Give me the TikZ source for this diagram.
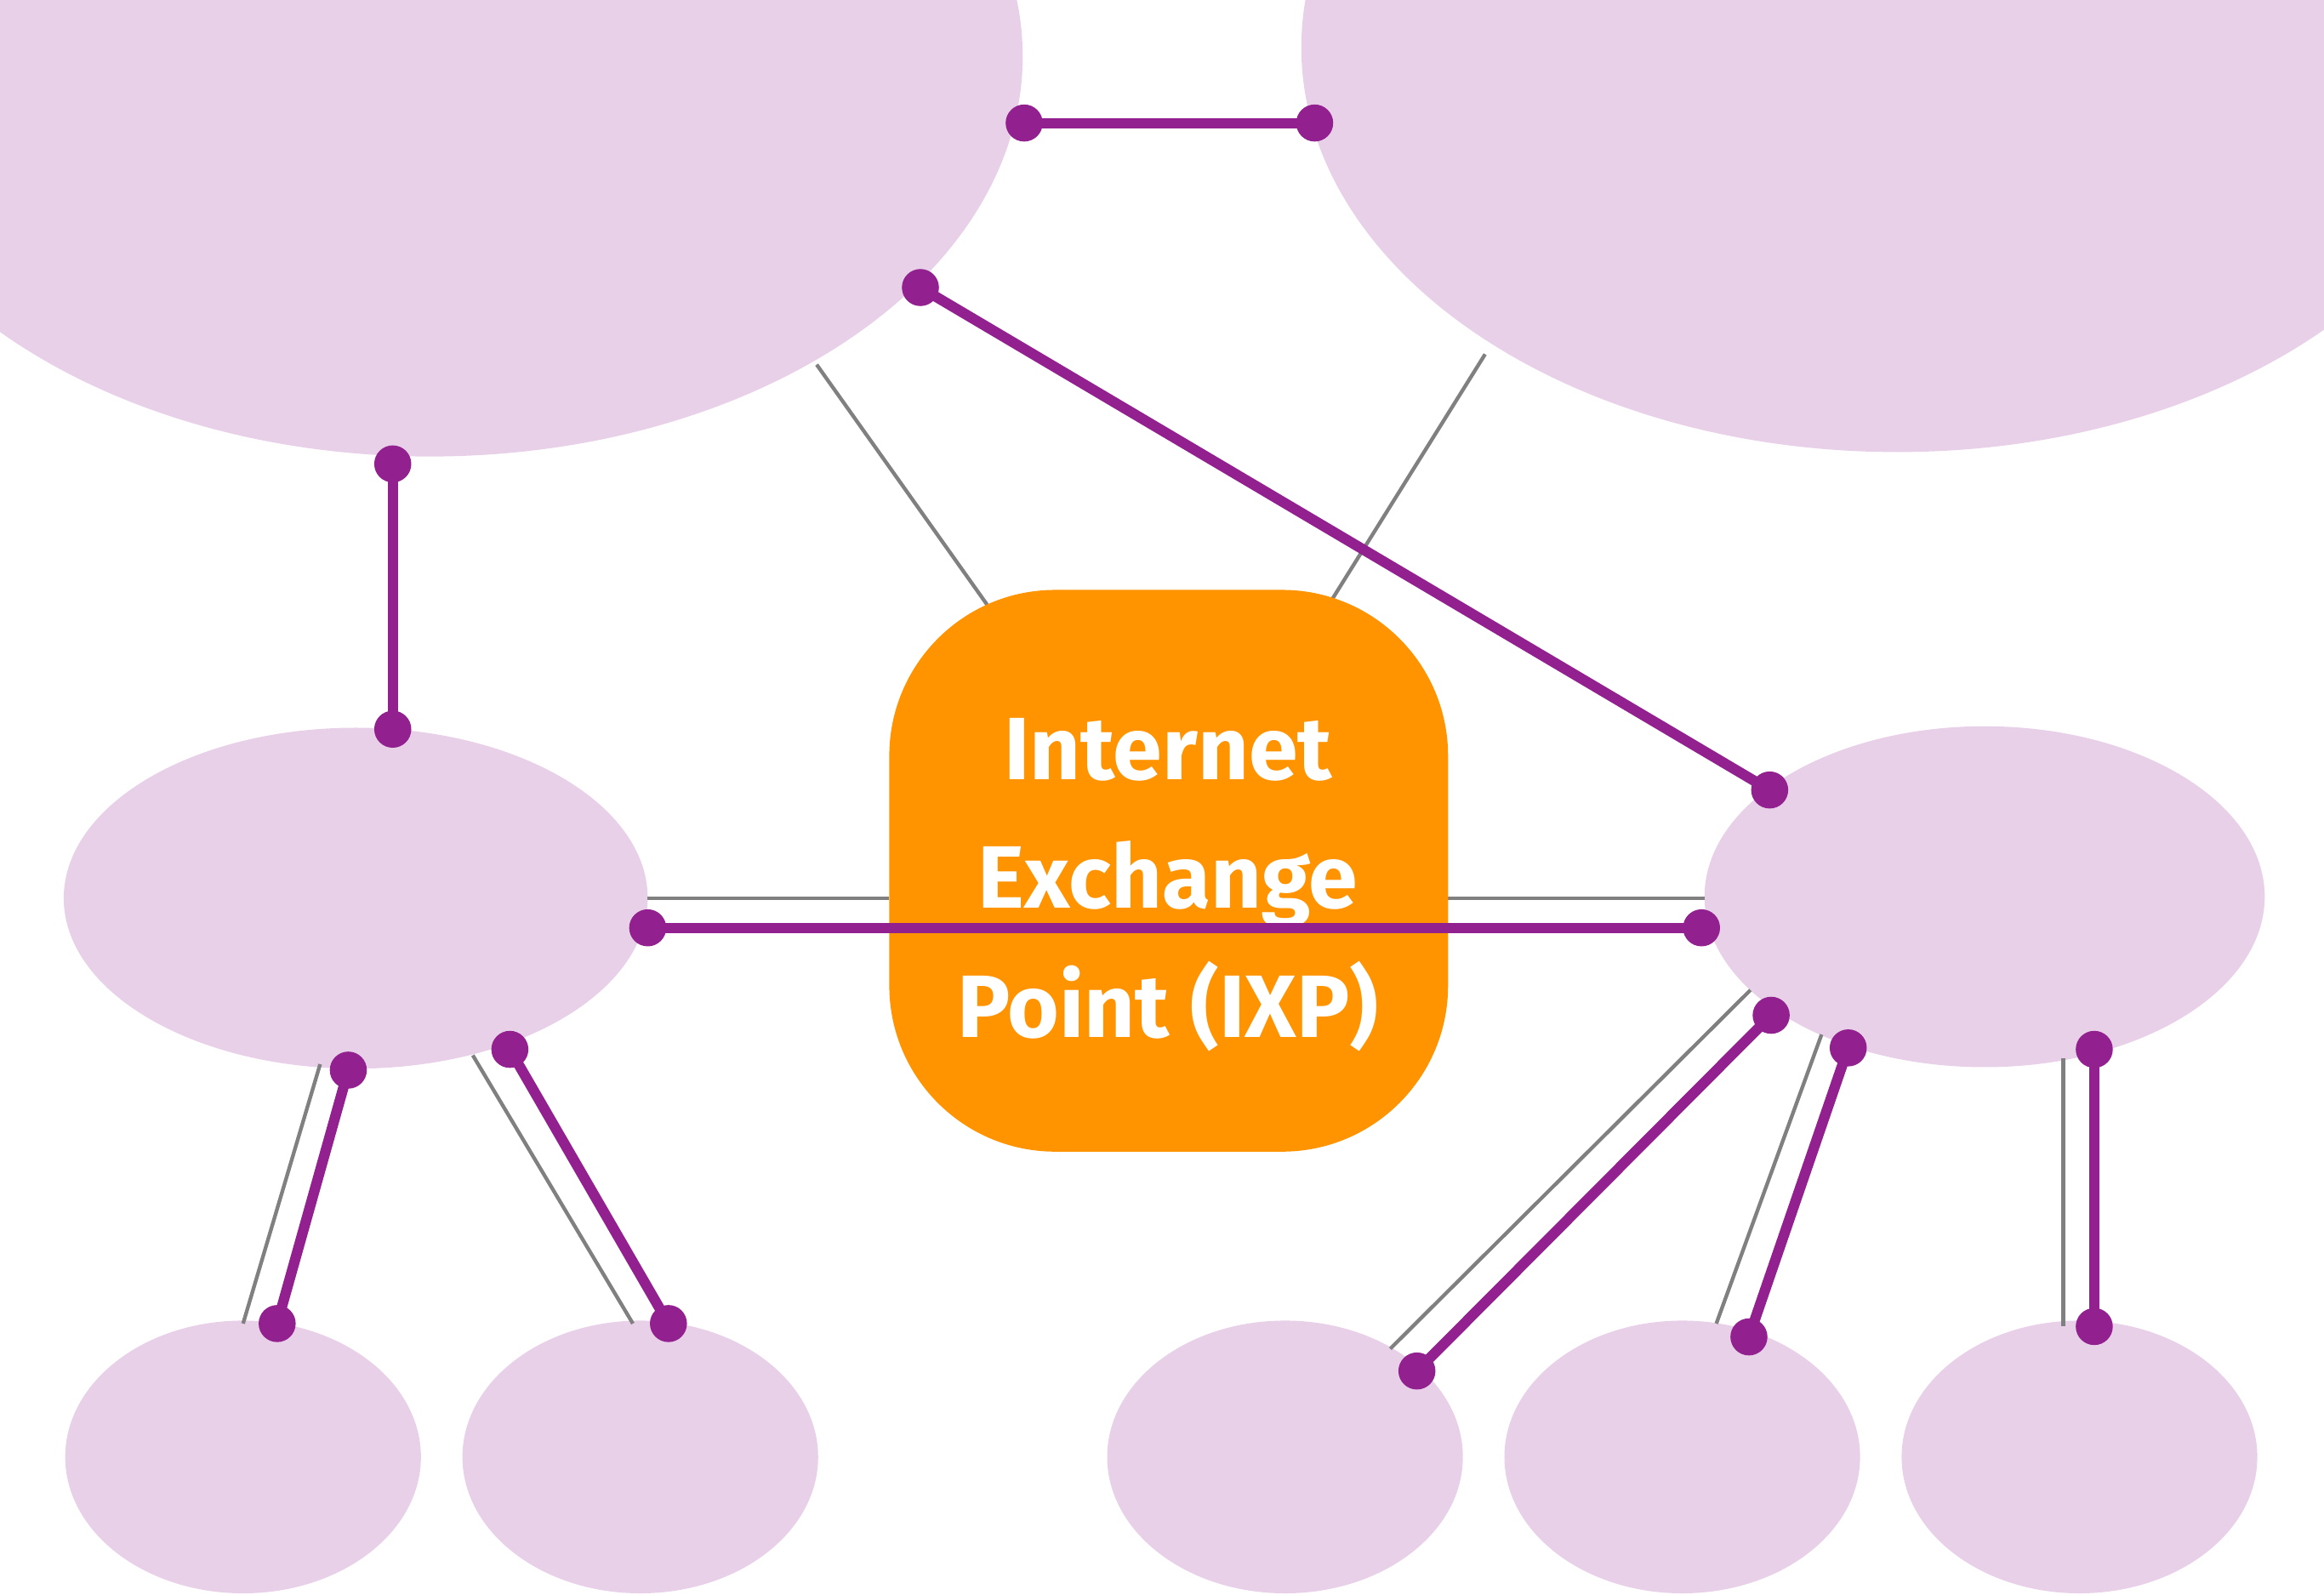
\documentclass[tikz,border=0pt]{standalone}
\usepackage{fontspec}
\setmainfont{Fira Sans}
\usetikzlibrary{shapes.geometric}
\definecolor{lilac}{RGB}{232,209,232}
\definecolor{plum}{RGB}{147,32,143}
\definecolor{ixporange}{RGB}{255,147,0}

\begin{document}
\begin{tikzpicture}[x=0.1mm, y=-0.1mm, cloud/.style={ellipse, fill=lilac, inner sep=0pt}, link/.style={line width=0.7mm, draw=plum}, peer/.style={line width=0.25mm, draw=gray}, dot/.style={circle, fill=plum, minimum size=2.5mm, inner sep=0pt}, ixp/.style={fill=ixporange, rounded corners=11.2mm, minimum width=37.7mm, minimum height=37.9mm, inner sep=0pt}, label/.style={text=white, font=\fontsize{17}{24.7}\selectfont\bfseries, align=center}]

\useasboundingbox (0,0) rectangle (1568,1076);
\clip (0,0) rectangle (1568,1076);

% networks
\node[cloud, minimum width=80mm, minimum height=54mm] (tl) at (290,38) {};
\node[cloud, minimum width=80.4mm, minimum height=54.6mm] (tr) at (1280,32) {};
\node[cloud, minimum width=39.4mm, minimum height=23mm] (ml) at (240,606) {};
\node[cloud, minimum width=37.8mm, minimum height=23mm] (mr) at (1339,605) {};
\foreach \n/\x in {b1/164, b2/432, b3/867, b4/1135, b5/1403}
  \node[cloud, minimum width=24mm, minimum height=18.4mm] (\n) at (\x,983) {};

% thin peer lines
\coordinate (ga1) at (551,246); \coordinate (ga2) at (666,408);
\coordinate (gb1) at (1002,239); \coordinate (gb2) at (899,404);
\coordinate (gc1) at (437,606); \coordinate (gc2) at (600,606);
\coordinate (gd1) at (977,606); \coordinate (gd2) at (1150,606);
\coordinate (ge1) at (216,718); \coordinate (ge2) at (164,893);
\coordinate (gf1) at (319,712); \coordinate (gf2) at (427,893);
\coordinate (gg1) at (1181,668); \coordinate (gg2) at (938,910);
\coordinate (gh1) at (1229,698); \coordinate (gh2) at (1158,893);
\coordinate (gi1) at (1392,714); \coordinate (gi2) at (1392,895);
\foreach \g in {ga, gb, gc, gd, ge, gf, gg, gh, gi}
  \draw[peer] (\g1) -- (\g2);

\node[ixp] (ixp) at (788.5,587.5) {};
\node[label] (ixptext) at (788,597) {Internet\\Exchange\\Point (IXP)};

% transit links
\coordinate (p1) at (691,83); \coordinate (p2) at (887,83);
\coordinate (p3) at (621,194); \coordinate (p4) at (1194,533);
\coordinate (p5) at (265,313); \coordinate (p6) at (265,492);
\coordinate (p7) at (437,626); \coordinate (p8) at (1148,626);
\coordinate (p9) at (235,722); \coordinate (p10) at (187,893);
\coordinate (p11) at (344,708); \coordinate (p12) at (451,893);
\coordinate (p13) at (1195,685); \coordinate (p14) at (956,925);
\coordinate (p15) at (1247,707); \coordinate (p16) at (1180,902);
\coordinate (p17) at (1413,708); \coordinate (p18) at (1413,895);
\foreach \a/\b in {p1/p2, p3/p4, p5/p6, p7/p8, p9/p10, p11/p12, p13/p14, p15/p16, p17/p18}
  \draw[link] (\a) -- (\b);
\foreach \p in {1,...,18}
  \node[dot] (dot\p) at (p\p) {};
\end{tikzpicture}
\end{document}
